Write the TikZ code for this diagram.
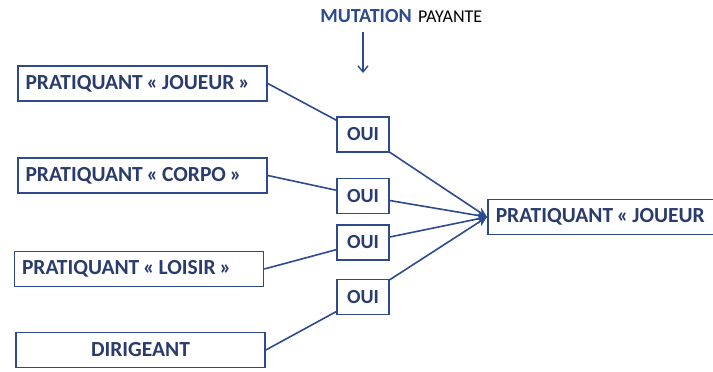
\documentclass[tikz,border=0pt]{standalone}
\usepackage{fontspec}
\setmainfont{Carlito}
\usepackage{tikz}
\usetikzlibrary{arrows.meta, positioning}
\definecolor{mutblue}{HTML}{2E4A8E}
\definecolor{mutnavy}{HTML}{2A3B6E}
\newcommand{\serre}{\spaceskip=0.18em\relax}

\begin{document}
\begin{tikzpicture}[
    x=1pt, y=-1pt,
    categorie/.style={rectangle, draw=mutblue, line width=1.6pt, fill=white, text=mutnavy, font=\fontsize{21.5}{25}\selectfont\bfseries, execute at begin node=\serre, minimum width=249pt, minimum height=35pt, text width=234pt, align=left, inner sep=0pt},
    oui/.style={rectangle, draw=mutblue, line width=1.6pt, fill=white, text=mutnavy, font=\fontsize{20}{23}\selectfont\bfseries, minimum width=52pt, minimum height=35pt, inner sep=0pt},
    lien/.style={mutblue, line width=1.6pt},
    fleche/.style={-{Straight Barb[length=6pt, width=10pt]}, mutblue, line width=1.4pt},
    pointe/.style={lien, -{Stealth[length=10pt, width=9pt]}}
]
\clip (0,0) rectangle (713,372);

% Titre
\node[text=mutblue, font=\fontsize{20}{23}\selectfont\bfseries, anchor=base, inner sep=0pt] (mutation) at (366,22) {MUTATION};
\node[anchor=base west, font=\fontsize{18}{21}\selectfont, inner sep=0pt] (payante) at ([xshift=6pt]mutation.base east) {PAYANTE};
\coordinate (bas) at (363,73);
\draw[fleche] ([yshift=-10pt]mutation.south -| bas) -- (bas);

% Pratiquants
\node[categorie] (joueur) at (142.5,83.5) {PRATIQUANT « JOUEUR »};
\node[categorie] (corpo) at (142.5,175.5) {PRATIQUANT « CORPO »};
\node[categorie] (loisir) at (139,269) {PRATIQUANT « LOISIR »};
\node[categorie, align=center] (dirigeant) at (140.5,350) {DIRIGEANT};

% OUI
\node[oui] (oui1) at (363,134.5) {OUI};
\node[oui] (oui2) at (363,196) {OUI};
\node[oui] (oui3) at (363,242.5) {OUI};
\node[oui] (oui4) at (363,297) {OUI};

% Resultat
\node[categorie, anchor=west, minimum width=260pt, text width=244pt] (cible) at (487,217) {PRATIQUANT « JOUEUR};

% Liens
\draw[lien] (joueur.east) -- (oui1);
\draw[lien] (corpo.east) -- (oui2);
\draw[lien] (loisir.east) -- (oui3);
\draw[lien] (dirigeant.east) -- (oui4);

\foreach \n in {oui1, oui2, oui3, oui4}
    \draw[pointe] (\n) -- (cible.west);
\end{tikzpicture}
\end{document}
